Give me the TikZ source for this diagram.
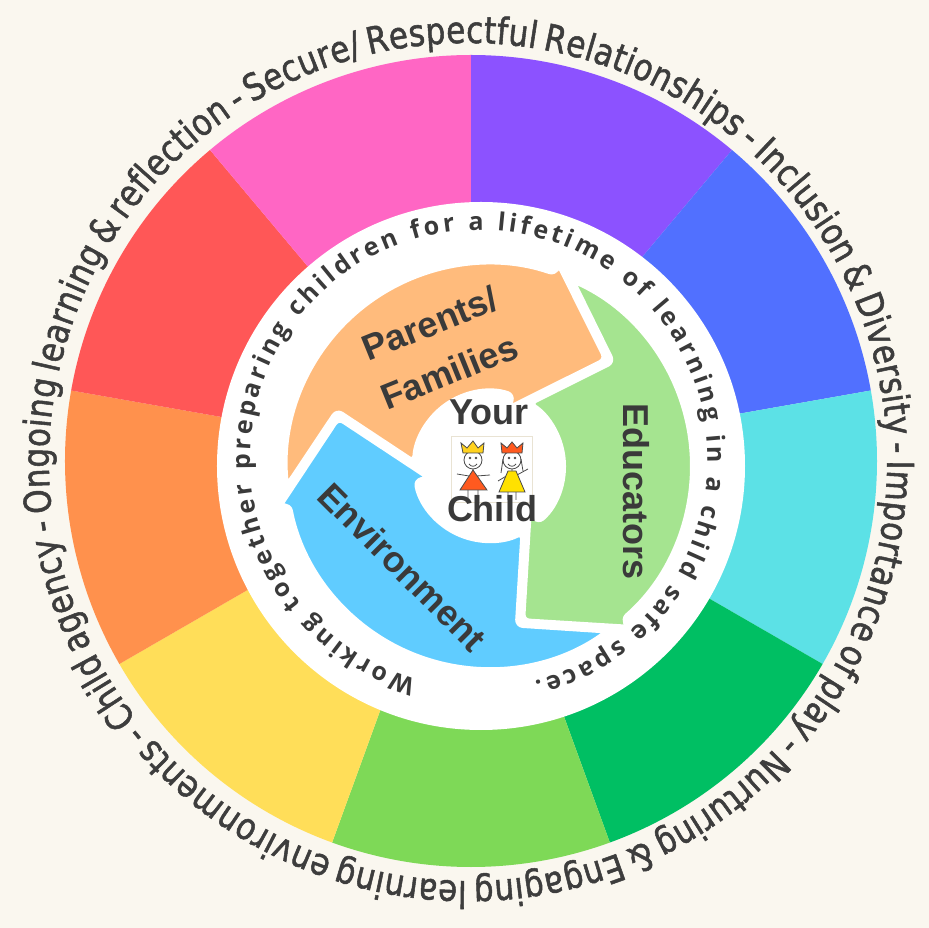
\documentclass[tikz,border=0pt]{standalone}
\usepackage{fontspec}
\usepackage{tikz}
\usetikzlibrary{decorations.text}
\newfontfamily\ringfont[FakeStretch=0.84,FakeBold=1.4]{DejaVu Sans}
\newfontfamily\mottofont{Open Sans}
\newfontfamily\labelfont{Liberation Sans}
\definecolor{bgcream}{HTML}{FAF7EF}
\definecolor{wpurple}{HTML}{8C52FF}
\definecolor{wblue}{HTML}{5170FF}
\definecolor{wcyan}{HTML}{5CE1E6}
\definecolor{wdkgreen}{HTML}{00BF63}
\definecolor{wltgreen}{HTML}{7ED957}
\definecolor{wyellow}{HTML}{FFDE59}
\definecolor{worange}{HTML}{FF914D}
\definecolor{wred}{HTML}{FF5757}
\definecolor{wpink}{HTML}{FF66C4}
\definecolor{parentsfill}{HTML}{FFBB7C}
\definecolor{educatorsfill}{HTML}{A5E490}
\definecolor{environmentfill}{HTML}{60CCFF}
\definecolor{ringtext}{HTML}{3D3D3D}
\definecolor{labeltext}{HTML}{3A3A3A}
\definecolor{kidline}{HTML}{4A4A4A}
\definecolor{crownyellow}{HTML}{FFD21F}
\definecolor{kidred}{HTML}{FF5A1F}
\definecolor{kidyellow}{HTML}{FFE100}
\definecolor{imgframe}{HTML}{E9E3D3}

\begin{document}
\begin{tikzpicture}[x=1pt,y=1pt,
  arrowpart/.style={draw=white,line width=4pt,rounded corners=6pt,line join=round},
  armlabel/.style={font=\labelfont\bfseries\fontsize{36}{52}\selectfont,text=labeltext,align=center,inner sep=0pt},
  kid/.style={draw=kidline,line width=0.8pt}]
\useasboundingbox (-471,-467) rectangle (458,461);
\fill[bgcream] (-471,-467) rectangle (458,461);

\fill[wpurple] (0,0) -- (90:406pt) arc[start angle=90,end angle=50,radius=406pt] -- cycle;
\fill[wblue] (0,0) -- (50:406pt) arc[start angle=50,end angle=10,radius=406pt] -- cycle;
\fill[wcyan] (0,0) -- (10:406pt) arc[start angle=10,end angle=-30,radius=406pt] -- cycle;
\fill[wdkgreen] (0,0) -- (-30:406pt) arc[start angle=-30,end angle=-70,radius=406pt] -- cycle;
\fill[wltgreen] (0,0) -- (-70:406pt) arc[start angle=-70,end angle=-110,radius=406pt] -- cycle;
\fill[wyellow] (0,0) -- (-110:406pt) arc[start angle=-110,end angle=-150,radius=406pt] -- cycle;
\fill[worange] (0,0) -- (-150:406pt) arc[start angle=-150,end angle=-190,radius=406pt] -- cycle;
\fill[wred] (0,0) -- (-190:406pt) arc[start angle=-190,end angle=-230,radius=406pt] -- cycle;
\fill[wpink] (0,0) -- (-230:406pt) arc[start angle=-230,end angle=-270,radius=406pt] -- cycle;

\fill[white] (10,-5) circle[radius=264pt];

\path[decorate,decoration={text along path,text align=fit to path,
  text={|\ringfont\fontsize{37}{40}\selectfont\fontdimen2\font=6pt\color{ringtext}|Secure/ Respectful Relationships - Inclusion {\&} Diversity - Importance of play - Nurturing {\&} Engaging learning environments - Child agency - Ongoing learning {\&} reflection -{\ }}}]
  (-3,-1) ++(121:419pt) arc[start angle=121,end angle=-239,radius=419pt];

\path[decorate,decoration={text along path,text align=fit to path,
  text={|\mottofont\bfseries\fontsize{25}{30}\selectfont\color{labeltext}|Working together preparing children for a lifetime of learning in a child safe space.}}]
  (8,2) ++(254:229pt) arc[start angle=254,end angle=-76,radius=229pt];

\begin{scope}[shift={(18,-5)}]
\path[arrowpart,fill=parentsfill] (185.4:203pt) arc[start angle=185.4,end angle=71,radius=203pt]
  -- (71:213pt) -- (42.5:158pt) -- (71:62pt) -- (71:75pt)
  arc[start angle=71,end angle=176.5,radius=75pt] -- (159.9:162pt) -- cycle;
\path[arrowpart,fill=educatorsfill] (65.4:203pt) arc[start angle=65.4,end angle=-49,radius=203pt]
  -- (-49:213pt) -- (-77.5:158pt) -- (-49:62pt) -- (-49:75pt)
  arc[start angle=-49,end angle=56.5,radius=75pt] -- (39.9:162pt) -- cycle;
\path[arrowpart,fill=environmentfill] (-54.6:203pt) arc[start angle=-54.6,end angle=-169,radius=203pt]
  -- (-169:213pt) -- (-197.5:158pt) -- (-169:62pt) -- (-169:75pt)
  arc[start angle=-169,end angle=-63.5,radius=75pt] -- (-80.1:162pt) -- cycle;
\end{scope}

\node[armlabel,rotate=22] (parents) at (-31.5,113.5) {Parents/\\Families};
\node[armlabel,rotate=-90] (educators) at (165,-30.5) {Educators};
\node[armlabel,rotate=-45] (environment) at (-68.5,-105.7) {Environment};

\filldraw[fill=white,draw=imgframe,line width=1pt] (-19,24) rectangle (61,-42);
\draw[kid,fill=white] (2,1) circle[radius=9pt];
\filldraw[kid,fill=crownyellow] (-8,8) -- (-10,18) -- (-4,13) -- (2,20) -- (7,13) -- (13,18) -- (12,8) -- cycle;
\fill[kidline] (-1,3) circle[radius=1.3pt] (5,3) circle[radius=1.3pt];
\draw[kid] (-2,-3) .. controls (0,-6) and (4,-6) .. (6,-3);
\draw[kid] (2,-8) -- (2,-10) (-2,-15) -- (-14,-13) (6,-15) -- (19,-14) (-3,-29) -- (-3,-37) (7,-29) -- (7,-37);
\filldraw[kid,fill=kidred] (2,-9) -- (-11,-29) -- (16,-29) -- cycle;
\draw[kid,fill=white] (41,1) circle[radius=9pt];
\draw[kid] (32,2) -- (30,-12) (50,2) -- (52,-10);
\filldraw[kid,fill=kidred] (31,8) -- (30,18) -- (36,13) -- (41,19) -- (46,13) -- (52,18) -- (51,8) -- cycle;
\fill[kidline] (38,3) circle[radius=1.3pt] (44,3) circle[radius=1.3pt];
\draw[kid] (37,-3) .. controls (39,-6) and (43,-6) .. (45,-3);
\draw[kid] (41,-8) -- (41,-10) (37,-14) -- (27,-20) (46,-14) -- (57,-8) (37,-31) -- (37,-39) (45,-31) -- (45,-39);
\filldraw[kid,fill=kidyellow] (37,-10) -- (45,-10) -- (54,-31) -- (28,-31) -- cycle;

\node[font=\labelfont\bfseries\fontsize{36}{40}\selectfont,text=labeltext,anchor=base,inner sep=0pt] (your) at (18,36) {Your};
\node[font=\labelfont\bfseries\fontsize{36}{40}\selectfont,text=labeltext,anchor=base,inner sep=0pt] (child) at (21,-61) {Child};
\end{tikzpicture}
\end{document}
